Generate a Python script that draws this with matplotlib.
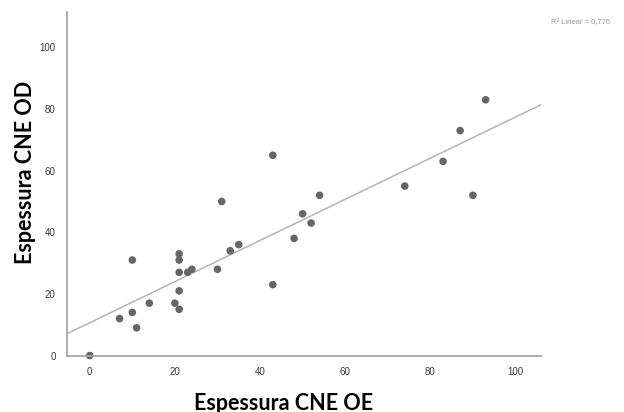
import numpy as np
import matplotlib.pyplot as plt

# Espessura CNE: olho esquerdo (OE) vs olho direito (OD)
cne_oe = [0, 7, 10, 10, 11, 14, 20, 21, 21, 21, 21, 21, 23, 24, 30, 31, 33, 35,
          43, 43, 48, 50, 52, 54, 74, 83, 87, 90, 93]
cne_od = [0, 12, 31, 14, 9, 17, 17, 15, 21, 27, 31, 33, 27, 28, 28, 50, 34, 36,
          23, 65, 38, 46, 43, 52, 55, 63, 73, 52, 83]
x_ticks = [0, 20, 40, 60, 80, 100]
y_ticks = [0, 20, 40, 60, 80, 100]
r2_label = 'R² Linear = 0,776'

x = np.array(cne_oe)
y = np.array(cne_od)
slope, intercept = np.polyfit(x, y, 1)

fig = plt.figure(figsize=(6.24, 4.12), dpi=100)
ax = fig.add_axes([0.107, 0.137, 0.76, 0.834])

ax.set_xlim(-5.4, 106)
ax.set_ylim(0, 111.5)

xl = np.array(ax.get_xlim())
ax.plot(xl, intercept + slope * xl, color='#b4b4b4', lw=1.1, zorder=1)
ax.scatter(x, y, s=30, color='#666666', edgecolors='none', zorder=2, clip_on=False)

for s in ['top', 'right']:
    ax.spines[s].set_visible(False)
for s in ['left', 'bottom']:
    ax.spines[s].set_color('#a8a8a8')
    ax.spines[s].set_linewidth(1.3)

ax.set_xticks(x_ticks)
ax.set_yticks(y_ticks)
ax.tick_params(length=0, labelsize=7, colors='#3a3a3a', pad=8,
               labelfontfamily='Liberation Sans')

fig.text(284 / 624, 1 - 403 / 412, 'Espessura CNE OE', ha='center', va='center',
         fontsize=15.5, fontweight='bold', family='Lato')
fig.text(25 / 624, 1 - 172 / 412, 'Espessura CNE OD', ha='center', va='center',
         rotation=90, fontsize=15.5, fontweight='bold', family='Lato')

fig.text(0.978, 0.945, r2_label, ha='right', va='center', fontsize=5.5,
         color='#999999', family='Liberation Sans')

fig.savefig('out.png', dpi=100)
